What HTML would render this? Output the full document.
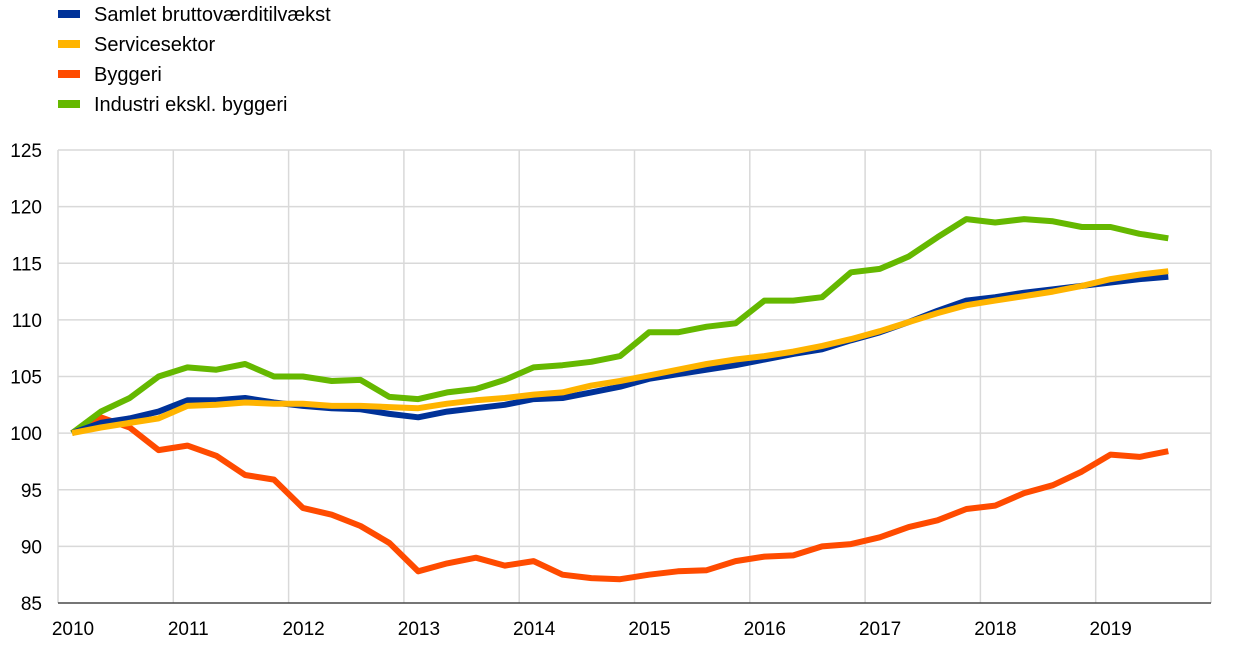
<!DOCTYPE html>
<html><head><meta charset="utf-8"><style>
html,body{margin:0;padding:0;background:#fff;}
svg{display:block;font-family:"Liberation Sans",Arial,sans-serif;}
</style></head><body>
<svg id="c" width="1240" height="651" viewBox="0 0 1240 651" xmlns="http://www.w3.org/2000/svg">
<g font-size="20" fill="#000">
<rect x="58" y="10" width="22" height="8" fill="#003299"/><text x="94" y="21">Samlet bruttoværditilvækst</text>
<rect x="58" y="40" width="22" height="8" fill="#ffb400"/><text x="94" y="51">Servicesektor</text>
<rect x="58" y="70" width="22" height="8" fill="#ff4b00"/><text x="94" y="81">Byggeri</text>
<rect x="58" y="100" width="22" height="8" fill="#65b800"/><text x="94" y="111">Industri ekskl. byggeri</text>
</g>
<g id="grid"></g>
<g id="series" fill="none" stroke-width="6" stroke-linejoin="round"></g>
</svg>
<script>
var ns="http://www.w3.org/2000/svg",svg=document.getElementById('c');
var g=document.getElementById('grid');
function Y(v){return 603-(v-85)*11.325;}
function el(p,t,a,txt){var e=document.createElementNS(ns,t);for(var k in a)e.setAttribute(k,a[k]);if(txt)e.textContent=txt;p.appendChild(e);return e;}
for(var v=85;v<=125;v+=5){var y=Y(v);el(g,'line',{x1:58,x2:1211,y1:y,y2:y,stroke:'#d9d9d9','stroke-width':1.5});
el(g,'text',{x:42,y:y+7,'text-anchor':'end','font-size':19},String(v));}
for(var i=0;i<=10;i++){var x=58+i*115.3;el(g,'line',{x1:x,x2:x,y1:150,y2:603,stroke:'#d9d9d9','stroke-width':1.5});
if(i<10)el(g,'text',{x:x+15,y:635,'text-anchor':'middle','font-size':19},String(2010+i));}
el(g,'line',{x1:58,x2:1211,y1:603,y2:603,stroke:'#000','stroke-width':1});
var S=[
['#ff4b00',[100,101.4,100.5,98.5,98.9,98.0,96.3,95.9,93.4,92.8,91.8,90.3,87.8,88.5,89.0,88.3,88.7,87.5,87.2,87.1,87.5,87.8,87.9,88.7,89.1,89.2,90.0,90.2,90.8,91.7,92.3,93.3,93.6,94.7,95.4,96.6,98.1,97.9,98.4]],
['#65b800',[100,101.9,103.1,105.0,105.8,105.6,106.1,105.0,105.0,104.6,104.7,103.2,103.0,103.6,103.9,104.7,105.8,106.0,106.3,106.8,108.9,108.9,109.4,109.7,111.7,111.7,112.0,114.2,114.5,115.6,117.3,118.9,118.6,118.9,118.7,118.2,118.2,117.6,117.2]],
['#003299',[100,100.9,101.3,101.9,102.9,102.9,103.1,102.7,102.4,102.2,102.1,101.7,101.4,101.9,102.2,102.5,103.0,103.1,103.6,104.1,104.8,105.2,105.6,106.0,106.5,107.0,107.4,108.2,108.9,109.8,110.8,111.7,112.0,112.4,112.7,113.0,113.3,113.6,113.8]],
['#ffb400',[100,100.5,100.9,101.3,102.4,102.5,102.7,102.6,102.6,102.4,102.4,102.3,102.2,102.6,102.9,103.1,103.4,103.6,104.2,104.6,105.1,105.6,106.1,106.5,106.8,107.2,107.7,108.3,109.0,109.8,110.6,111.3,111.7,112.1,112.5,113.0,113.6,114.0,114.3]]];
var sg=document.getElementById('series');
S.forEach(function(s){var p=s[1].map(function(v,i){return (72+i*28.85).toFixed(1)+','+Y(v).toFixed(1);}).join(' ');
el(sg,'polyline',{points:p,stroke:s[0]});});
</script>
</body></html>
